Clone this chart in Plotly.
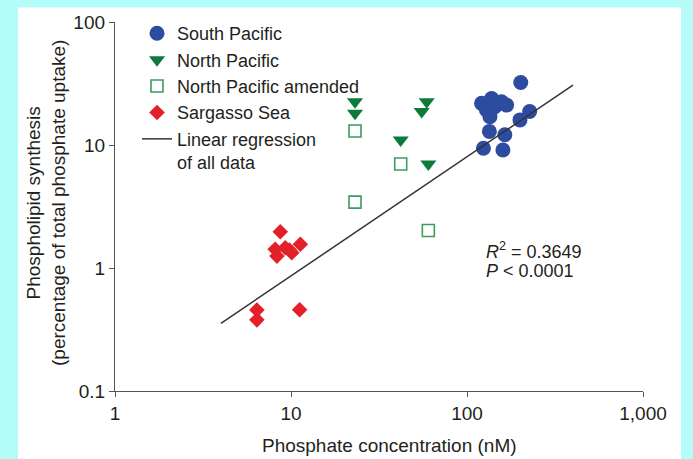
import plotly.graph_objects as go

# ---- data ----
sp_x = [202, 121, 138, 157, 168, 129, 144, 135, 227, 200, 134, 164, 124, 160]
sp_y = [32.2, 21.8, 23.9, 22.5, 21.1, 19.3, 20.5, 17.0, 18.7, 16.0, 12.9, 12.1, 9.4, 9.1]

np_x = [23.1, 23.1, 59, 55.3, 42, 60.3]
np_y = [22.5, 18.1, 22.5, 18.7, 11.0, 7.0]

npa_x = [23.1, 42, 23.1, 60.3]
npa_y = [13.0, 7.0, 3.43, 2.02]

ss_x = [8.69, 8.13, 8.32, 9.27, 10.1, 11.3, 9.8, 6.40, 6.40, 11.2]
ss_y = [1.97, 1.42, 1.25, 1.46, 1.33, 1.56, 1.40, 0.456, 0.379, 0.458]

reg_x = [4, 400]
reg_y = [0.355, 30.7]

x_tickvals = [1, 10, 100, 1000]
x_ticktext = ["1", "10", "100", "1,000"]
y_tickvals = [0.1, 1, 10, 100]
y_ticktext = ["0.1", "1", "10", "100"]

FONT = "Liberation Sans, Arial, Helvetica, sans-serif"
TXT = "#231f20"
BLUE = "#2d4b9f"
GREEN = "#0b7a3b"
GREEN2 = "#3c9b5e"
RED = "#e3202a"

fig = go.Figure()
fig.add_trace(go.Scatter(x=sp_x, y=sp_y, mode="markers", name="South Pacific",
                         marker=dict(symbol="circle", size=15, color=BLUE)))
fig.add_trace(go.Scatter(x=np_x, y=np_y, mode="markers", name="North Pacific",
                         marker=dict(symbol="triangle-down", size=14, color=GREEN)))
fig.add_trace(go.Scatter(x=npa_x, y=npa_y, mode="markers", name="North Pacific amended",
                         marker=dict(symbol="square-open", size=12, color=GREEN2,
                                     line=dict(width=1.6, color=GREEN2))))
fig.add_trace(go.Scatter(x=ss_x, y=ss_y, mode="markers", name="Sargasso Sea",
                         marker=dict(symbol="diamond", size=12, color=RED)))
fig.add_trace(go.Scatter(x=reg_x, y=reg_y, mode="lines",
                         name="Linear regression<br>of all data",
                         line=dict(color="#333333", width=1.5)))

L, R, T, B = 115, 50, 20, 68
W, H = 693, 459
pw = W - L - R
ph = H - T - B

def px_x(p):
    return (p - L) / pw

def px_y(p):
    return (H - B - p) / ph

fig.update_layout(
    width=W, height=H, autosize=False,
    margin=dict(l=L, r=R, t=T, b=B, pad=0),
    paper_bgcolor="#b4fcf9",
    plot_bgcolor="white",
    font=dict(family=FONT, size=19, color=TXT),
    showlegend=True,
    legend=dict(x=px_x(137), y=px_y(13), xanchor="left", yanchor="top",
                bgcolor="rgba(0,0,0,0)", font=dict(size=18, color=TXT),
                valign="top", tracegroupgap=0, itemsizing="trace"),
    shapes=[dict(type="rect", xref="paper", yref="paper",
                 x0=px_x(18), x1=px_x(681), y0=px_y(470), y1=px_y(5.5),
                 fillcolor="white", line=dict(width=0), layer="below")],
    annotations=[
        dict(text="<i>R</i><sup>2</sup> = 0.3649", xref="paper", yref="paper",
             x=px_x(484), y=px_y(250), xanchor="left", yanchor="middle",
             showarrow=False, font=dict(size=18, color=TXT)),
        dict(text="<i>P</i> &lt; 0.0001", xref="paper", yref="paper",
             x=px_x(484), y=px_y(270), xanchor="left", yanchor="middle",
             showarrow=False, font=dict(size=18, color=TXT)),
        dict(text="Phosphate concentration (nM)", xref="paper", yref="paper",
             x=px_x(389.5), y=px_y(446), xanchor="center", yanchor="middle",
             showarrow=False, font=dict(size=19, color=TXT)),
        dict(text="Phospholipid synthesis<br>(percentage of total phosphate uptake)",
             xref="paper", yref="paper", textangle=-90,
             x=px_x(46), y=px_y(202), xanchor="center", yanchor="middle",
             showarrow=False, font=dict(size=19, color=TXT)),
    ],
)

fig.update_xaxes(type="log", range=[0, 3], showgrid=False, zeroline=False,
                 showline=True, linecolor="#555555", linewidth=1.3,
                 ticks="outside", ticklen=5, tickwidth=1.3, tickcolor="#555555",
                 tickvals=x_tickvals, ticktext=x_ticktext,
                 tickfont=dict(size=19, color=TXT))
fig.update_yaxes(type="log", range=[-1, 2], showgrid=False, zeroline=False,
                 showline=True, linecolor="#555555", linewidth=1.3,
                 ticks="outside", ticklen=5, tickwidth=1.3, tickcolor="#555555",
                 tickvals=y_tickvals, ticktext=y_ticktext,
                 tickfont=dict(size=19, color=TXT))

fig.write_html("out.html")
